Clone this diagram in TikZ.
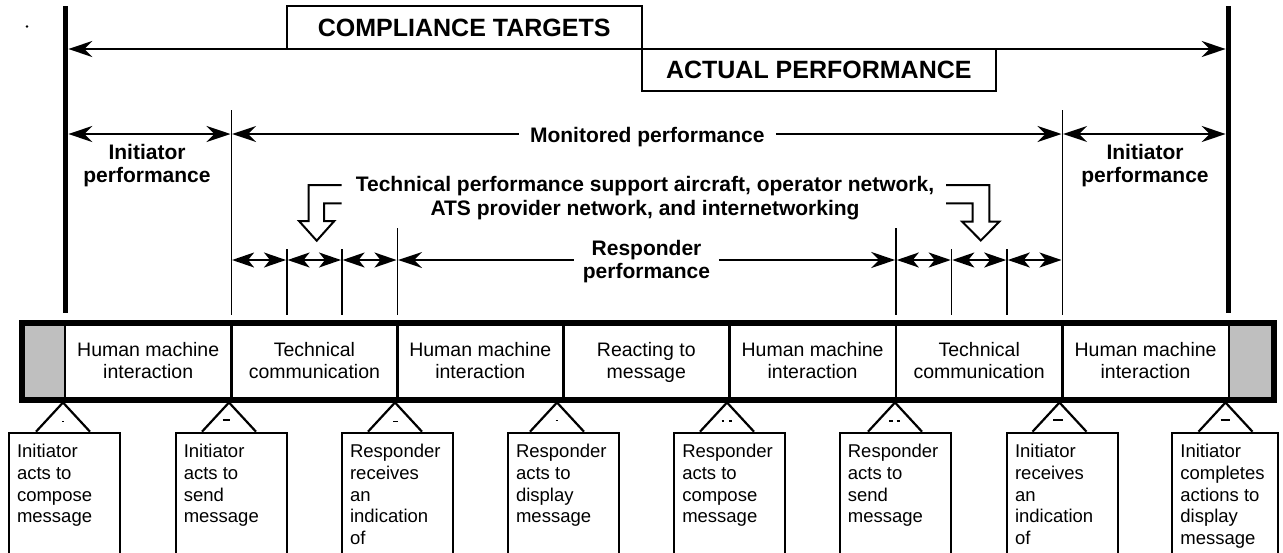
\documentclass[tikz,border=0pt]{standalone}
\usepackage{fontspec}
\setmainfont{Liberation Sans}
\usetikzlibrary{arrows.meta}

\tikzset{
  heavyrule/.style={line width=5pt},
  guide/.style={line width=1.5pt},
  bigdim/.style={line width=2pt,
    {Stealth[length=24pt,width=16pt,inset=8pt]}-{Stealth[length=24pt,width=16pt,inset=8pt]}},
  bigstart/.style={line width=2pt, {Stealth[length=24pt,width=16pt,inset=8pt]}-},
  bigend/.style={line width=2pt, -{Stealth[length=24pt,width=16pt,inset=8pt]}},
  smalldim/.style={line width=1.8pt,
    {Stealth[length=22pt,width=15pt,inset=6pt]}-{Stealth[length=22pt,width=15pt,inset=6pt]}},
  titlebox/.style={draw, line width=2.2pt, inner sep=0pt,
    font=\fontsize{25}{30}\selectfont\bfseries},
  boldlabel/.style={align=center, inner sep=0pt,
    font=\fontsize{21}{23.3}\selectfont\bfseries},
  celltext/.style={align=center, inner sep=0pt, anchor=north,
    font=\fontsize{19.5}{22.7}\selectfont},
  notebox/.style={draw, line width=2.3pt, minimum height=140pt, anchor=north, inner sep=0pt},
  notetext/.style={align=left, inner sep=0pt, anchor=north west,
    font=\fontsize{18.5}{21.7}\selectfont},
  pointer/.style={line width=2.2pt, line join=miter},
  hollow/.style={line width=2pt, line join=miter},
  divider/.style={line width=2.7pt},
  tinymark/.style={line width=1.3pt},
}

\begin{document}
\begin{tikzpicture}[x=1pt,y=-1pt]
\useasboundingbox (0,0) rectangle (1283,552);
\clip (0,0) rectangle (1283,552);

% stray dot at the upper left
\fill (27,26.5) circle (1.4pt);

% outer limits of the compliance interval
\draw[heavyrule] (65.8,6) -- (65.8,313.3);
\draw[heavyrule] (1228.5,6) -- (1228.5,313.3);

% compliance targets / actual performance
\coordinate (cmpL) at (68.3,49);
\coordinate (cmpR) at (1225.7,49);
\draw[bigdim] (cmpL) -- (cmpR);
\node[titlebox, minimum width=355pt, minimum height=43pt] (targets) at (464.2,27.5) {COMPLIANCE TARGETS};
\node[titlebox, minimum width=354.3pt, minimum height=41.7pt] (actual) at (818.8,69.9) {ACTUAL PERFORMANCE};

% boundaries of the monitored segment
\draw[guide] (231.3,110) -- (231.3,315);
\draw[guide] (1062.3,110) -- (1062.3,315);
\draw[guide] (397.3,228) -- (397.3,315);
\draw[guide] (896,228) -- (896,315);
\foreach \x in {286.8,341.8,951.5,1007} \draw[guide] (\x,249) -- (\x,315);

% initiator / monitored performance row
\coordinate (iL1) at (68.3,134);  \coordinate (iR1) at (230.5,134);
\coordinate (mL)  at (232.1,134); \coordinate (mR)  at (1061.5,134);
\coordinate (iL2) at (1063.1,134); \coordinate (iR2) at (1225.7,134);
\draw[bigdim] (iL1) -- (iR1);
\draw[bigdim] (iL2) -- (iR2);
\node[boldlabel, anchor=base, inner xsep=11pt] (monitored) at (647.3,142.2) {Monitored performance};
\draw[bigstart] (mL) -- (monitored.west |- mL);
\draw[bigend] (monitored.east |- mR) -- (mR);
\node[boldlabel, anchor=north] (initA) at (147,144.1) {Initiator\\performance};
\node[boldlabel, anchor=north] (initB) at (1145,144.1) {Initiator\\performance};

% technical performance note with its two pointers
\node[boldlabel, anchor=north, font=\fontsize{21}{24.7}\selectfont\bfseries] (tech) at (645,175.6)
  {Technical performance support aircraft, operator network,\\ATS provider network, and internetworking};
\draw[hollow] (341.7,185) -- (308.7,185) -- (308.7,221) -- (299,221) -- (316.7,240.7)
  -- (334.3,221) -- (324,221) -- (324,203.3) -- (341.7,203.3);
\draw[hollow] (946,185) -- (989.3,185) -- (989.3,221.7) -- (999.3,221.7) -- (980.8,240.5)
  -- (962.3,221.7) -- (972.7,221.7) -- (972.7,203.3) -- (946,203.3);

% technical sub-intervals and responder performance
\coordinate (s1) at (232.1,260);  \coordinate (s2) at (286,260);
\coordinate (s3) at (287.6,260);  \coordinate (s4) at (341,260);
\coordinate (s5) at (342.6,260);  \coordinate (s6) at (396.5,260);
\coordinate (s7) at (896.8,260);  \coordinate (s8) at (950.7,260);
\coordinate (s9) at (952.3,260);  \coordinate (s10) at (1006.2,260);
\coordinate (s11) at (1007.8,260); \coordinate (s12) at (1061.5,260);
\draw[smalldim] (s1) -- (s2);
\draw[smalldim] (s3) -- (s4);
\draw[smalldim] (s5) -- (s6);
\draw[smalldim] (s7) -- (s8);
\draw[smalldim] (s9) -- (s10);
\draw[smalldim] (s11) -- (s12);
\coordinate (rL) at (398.1,260);
\coordinate (rR) at (895.2,260);
\node[boldlabel, anchor=north, inner xsep=8.5pt, font=\fontsize{21}{22.6}\selectfont\bfseries] (resp) at (646.5,240.5) {Responder\\performance};
\draw[bigstart] (rL) -- (resp.west |- rL);
\draw[bigend] (resp.east |- rR) -- (rR);

% process bar
\fill[gray!50] (24.5,325.5) rectangle (65,396.5);
\fill[gray!50] (1229,325.5) rectangle (1270.5,396.5);
\foreach \x in {65,231.5,397.3,563.3,729.3,896,1062.3,1229}
  \draw[divider] (\x,325.5) -- (\x,396.5);
\draw[line width=6pt] (21.5,322.5) rectangle (1273.5,399.5);
\foreach \x/\n/\txt in {148.2/1/{Human machine\\interaction},
                        314.4/2/{Technical\\communication},
                        480.3/3/{Human machine\\interaction},
                        646.3/4/{Reacting to\\message},
                        812.6/5/{Human machine\\interaction},
                        979.2/6/{Technical\\communication},
                        1145.6/7/{Human machine\\interaction}}
  \node[celltext] (cell\n) at (\x,341.8) {\txt};

% event callouts under the bar
\foreach \n/\tx/\bx/\bw/\txt in {
   1/63/64.5/111/{Initiator\\acts to\\compose\\message},
   2/229/231.2/111/{Initiator\\acts to\\send\\message},
   3/395/397.5/111/{Responder\\receives\\an\\indication\\of},
   4/557/563.5/111/{Responder\\acts to\\display\\message},
   5/727/729.7/111/{Responder\\acts to\\compose\\message},
   6/895/895.3/111/{Responder\\acts to\\send\\message},
   7/1059.5/1062.5/111/{Initiator\\receives\\an\\indication\\of},
   8/1225.5/1225.3/106/{Initiator\\completes\\actions to\\display\\message}}{
  \node[notebox, minimum width=\bw pt] (box\n) at (\bx,431.7) {};
  \draw[pointer] (\tx-27,431.7) -- (\tx,402.5) -- (\tx+27,431.7);
  \node[notetext] (note\n) at ([xshift=9pt,yshift=-12.5pt]box\n.north west) {\txt};
}

% small marks inside the callout pointers
\draw[tinymark] (62.3,421.7) -- (64.3,421.7);
\draw[tinymark] (222.7,420) -- (230,420);
\draw[tinymark] (393.3,421.5) -- (398.3,421.5);
\draw[tinymark] (555.7,420.7) -- (558.3,420.7);
\draw[tinymark] (721.7,421) -- (724,421);
\draw[tinymark] (729.3,421) -- (731.7,421);
\draw[tinymark] (889.3,421) -- (892.7,421);
\draw[tinymark] (896.7,421) -- (900,421);
\draw[tinymark] (1053.3,420) -- (1062.7,420);
\draw[tinymark] (1220.7,420) -- (1230,420);
\end{tikzpicture}
\end{document}
